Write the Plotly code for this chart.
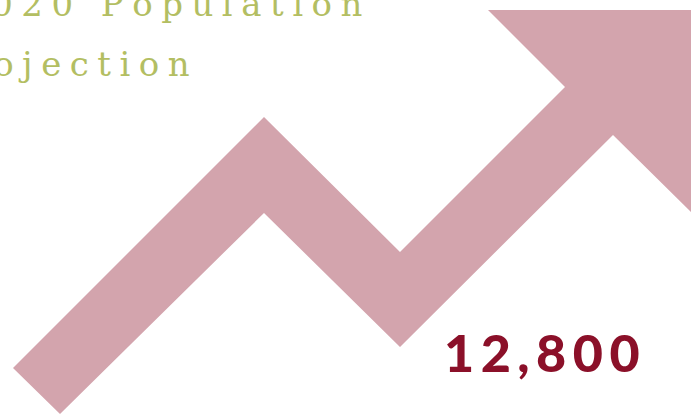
import plotly.graph_objects as go

# Arrow outline (vertices of the zig-zag arrow shape, in chart units)
arrow_x = [13, 264, 400, 565, 488, 691, 691, 613, 400, 264, 60]
arrow_y = [368, 117, 252, 87, 10, 10, 212, 135, 347, 213, 414]

title_lines = ["2020 Population", "Projection"]
headline_value = "12,800"

ARROW_COLOR = "#d3a4ad"
TITLE_COLOR = "#b3be62"
VALUE_COLOR = "#8b1029"


def spaced(s, sep):
    return sep.join(list(s))


fig = go.Figure()
fig.add_trace(go.Scatter(
    x=arrow_x, y=arrow_y, mode="lines", fill="toself",
    fillcolor=ARROW_COLOR, line=dict(width=0, color=ARROW_COLOR),
    hoverinfo="skip", showlegend=False,
))

fig.add_annotation(
    x=364, y=4, xref="x", yref="y", xanchor="right", yanchor="middle",
    text=spaced(title_lines[0], "\u2005"), showarrow=False,
    font=dict(family="DejaVu Serif", size=34, color=TITLE_COLOR),
)
fig.add_annotation(
    x=192, y=64, xref="x", yref="y", xanchor="right", yanchor="middle",
    text=spaced(title_lines[1], "\u2005"), showarrow=False,
    font=dict(family="DejaVu Serif", size=34, color=TITLE_COLOR),
)
fig.add_annotation(
    x=642, y=352, xref="x", yref="y", xanchor="right", yanchor="middle",
    text=spaced(headline_value, "\u2009"), showarrow=False,
    font=dict(family="Lato", size=52, color=VALUE_COLOR, weight=900),
)

fig.update_xaxes(range=[0, 695], visible=False, fixedrange=True)
fig.update_yaxes(range=[415, 0], visible=False, fixedrange=True)
fig.update_layout(
    width=695, height=415,
    margin=dict(l=0, r=0, t=0, b=0),
    paper_bgcolor="white", plot_bgcolor="white",
)

fig.write_html(
    "out.html",
    config={"displayModeBar": False},
    post_script="document.body.style.margin='0';document.documentElement.style.overflow='hidden';",
)
